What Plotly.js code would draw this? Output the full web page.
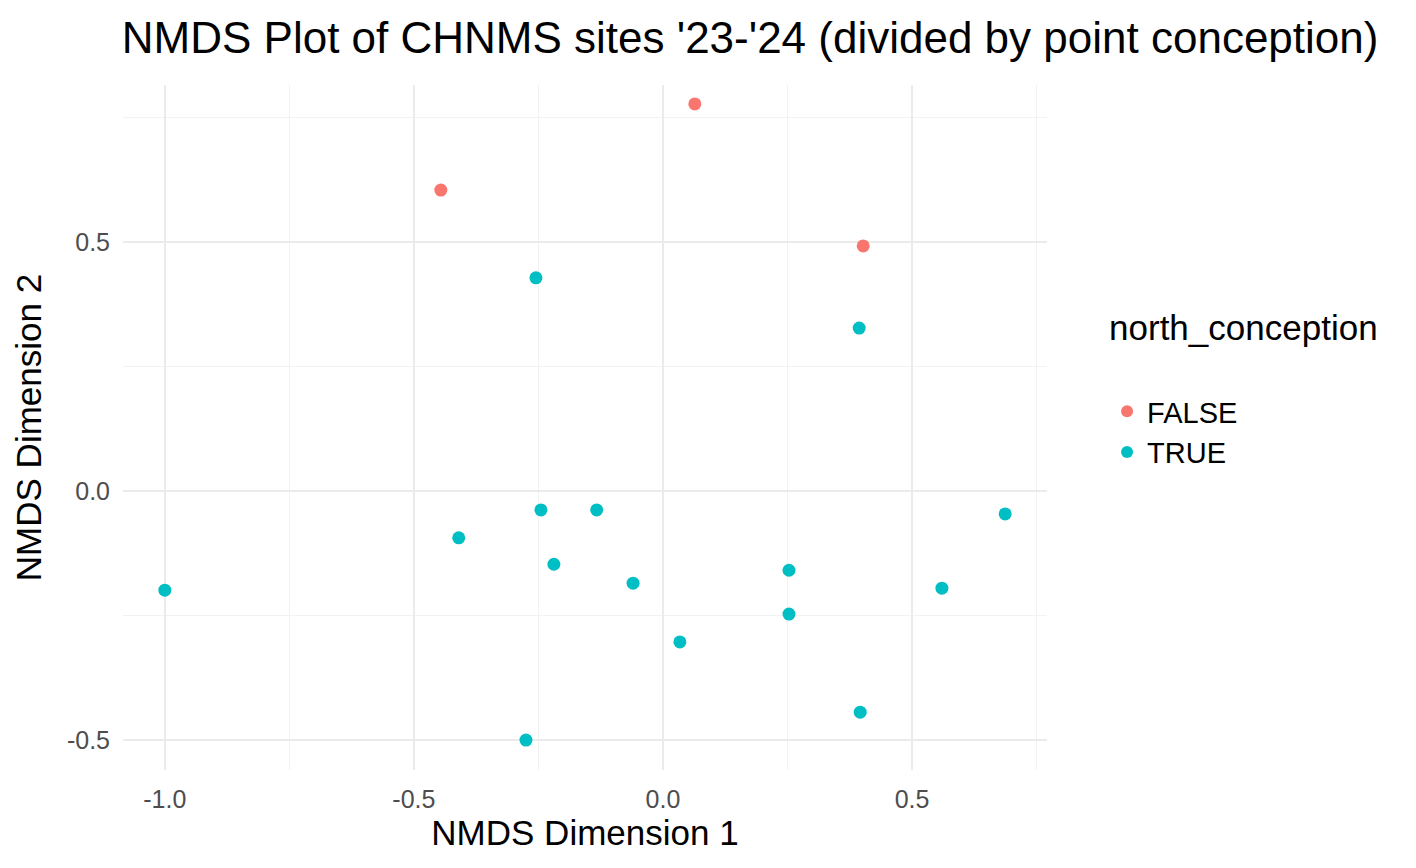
<!DOCTYPE html>
<html><head><meta charset="utf-8">
<script src="https://cdn.plot.ly/plotly-3.0.1.min.js"></script>
<style>body{margin:0}</style></head>
<body><div id="c" style="width:1416px;height:868px"></div>
<script>
const falseX = [0.064, -0.446, 0.402];
const falseY = [0.777, 0.604, 0.492];
const trueX = [-0.255, 0.394, -0.245, -0.133, -0.410, 0.687, -1.0, -0.219, -0.060, 0.253, 0.560, 0.253, 0.034, 0.396, -0.275];
const trueY = [0.428, 0.327, -0.038, -0.038, -0.094, -0.046, -0.199, -0.147, -0.185, -0.159, -0.195, -0.247, -0.303, -0.444, -0.500];
const F = "Liberation Sans, Arial, sans-serif";
const traces = [
 {x: falseX, y: falseY, mode: 'markers', type: 'scatter', name: 'FALSE', marker: {color: '#F8766D', size: 13}},
 {x: trueX, y: trueY, mode: 'markers', type: 'scatter', name: 'TRUE', marker: {color: '#00BFC4', size: 13}}
];
const grid = {gridcolor: '#EBEBEB', gridwidth: 2.2, zeroline: false, showline: false, ticks: '',
  minor: {dtick: 0.25, gridcolor: '#F2F2F2', gridwidth: 1.2, showgrid: true},
  tickfont: {family: F, size: 25, color: '#4D4D4D'}};
Plotly.newPlot('c', traces, {
  width: 1416, height: 868,
  paper_bgcolor: 'white', plot_bgcolor: 'white',
  margin: {l: 123, r: 369, t: 85, b: 98},
  title: {text: "NMDS Plot of CHNMS sites '23-'24 (divided by point conception)", x: 0.086, xanchor: 'left', y: 0.975, font: {family: F, size: 44, color: 'black'}},
  xaxis: Object.assign({}, grid, {range: [-1.084, 0.771], tickvals: [-1, -0.5, 0, 0.5], ticktext: ['-1.0', '-0.5', '0.0', '0.5'],
    ticklabelstandoff: 12,
    title: {text: 'NMDS Dimension 1', font: {family: F, size: 35, color: 'black'}, standoff: 8}}),
  yaxis: Object.assign({}, grid, {range: [-0.560, 0.815], tickvals: [-0.5, 0, 0.5], ticktext: ['-0.5', '0.0', '0.5'],
    ticklabelstandoff: 12,
    title: {text: 'NMDS Dimension 2', font: {family: F, size: 35, color: 'black'}, standoff: 14}}),
  legend: {x: 1.065, y: 0.56, xanchor: 'left', yanchor: 'middle', font: {family: F, size: 29, color: 'black'},
    title: {text: 'north_conception<br> ', font: {family: F, size: 35, color: 'black'}}, itemsizing: 'constant', tracegroupgap: 18}
}, {displayModeBar: false});
</script></body></html>
